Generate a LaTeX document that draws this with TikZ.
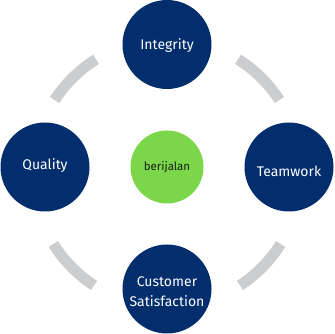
\documentclass[tikz,border=0pt]{standalone}
\usepackage{fontspec}
\setmainfont{Fira Sans}
\usetikzlibrary{calc}
\definecolor{navy}{RGB}{3,46,110}
\definecolor{leaf}{RGB}{123,214,74}
\definecolor{ring}{RGB}{204,205,207}
\definecolor{inktext}{RGB}{25,30,20}
\begin{document}
\begin{tikzpicture}[x=1pt,y=1pt,
  bubble/.style={circle,fill=navy,draw=none,minimum size=89pt,inner sep=0pt},
  btext/.style={text=white,font=\fontsize{14}{20}\selectfont,align=center,inner sep=0pt},
  hub/.style={circle,fill=leaf,draw=none,minimum size=73pt,inner sep=0pt,
    text=inktext,font=\fontsize{11.5}{14}\selectfont},
  ringarc/.style={draw=ring,line width=11pt,line cap=butt}]
\useasboundingbox (0,0) rectangle (334,334);
\coordinate (c) at (167,161);
\draw[ringarc] ($(c)+(33:134)$) arc[start angle=33,end angle=58,radius=134];
\draw[ringarc] ($(c)+(122:134)$) arc[start angle=122,end angle=147,radius=134];
\draw[ringarc] ($(c)+(212:134)$) arc[start angle=212,end angle=237,radius=134];
\draw[ringarc] ($(c)+(303:134)$) arc[start angle=303,end angle=328,radius=134];
\node[bubble] (integrity) at (167,289.5) {};
\node[bubble] (quality) at (45,167) {};
\node[bubble] (teamwork) at (289,167) {};
\node[bubble] (customer) at (167,45) {};
\node[btext] (integritytext) at ([yshift=-1pt]integrity.center) {Integrity};
\node[btext] (qualitytext) at ([yshift=1pt]quality.center) {Quality};
\node[btext] (teamworktext) at ([yshift=-4pt]teamwork.center) {Teamwork};
\node[btext] (customertext) at ([yshift=-3pt]customer.center) {Customer\\Satisfaction};
\node[hub] (hub) at (167,167) {berijalan};
\end{tikzpicture}
\end{document}
